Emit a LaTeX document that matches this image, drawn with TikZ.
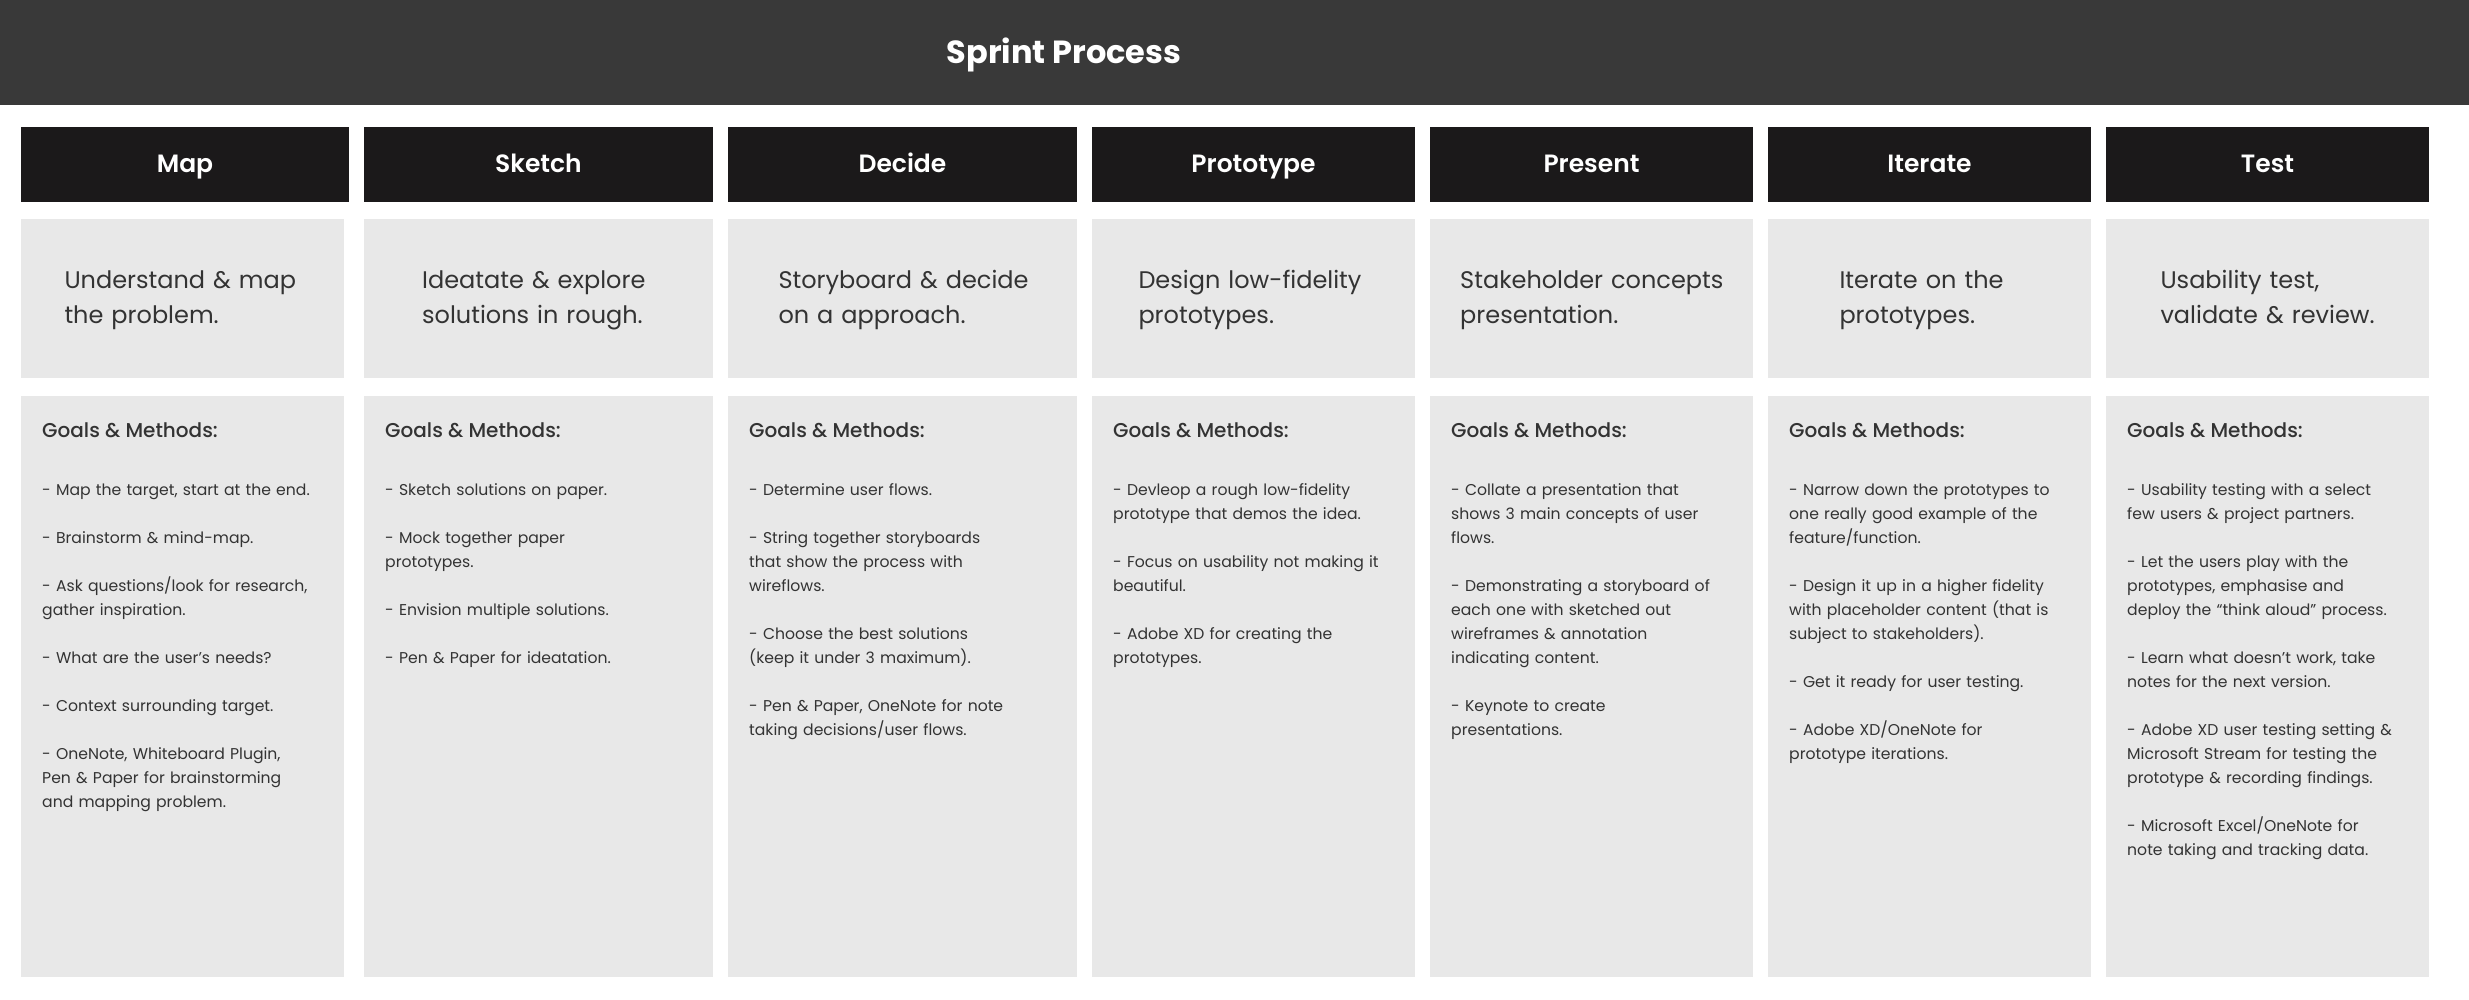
\documentclass[tikz,border=0pt]{standalone}
\usepackage{fontspec}
\setmainfont{Poppins}
\newfontfamily\psemi{Poppins SemiBold}
\newfontfamily\pmed{Poppins Medium}
\definecolor{band}{HTML}{393939}
\definecolor{hdr}{HTML}{1B191A}
\definecolor{card}{HTML}{E8E8E8}
\definecolor{ink}{HTML}{333333}
\tikzset{
  box/.style={anchor=north west, inner sep=0pt, outer sep=0pt, draw=none},
  hdrbox/.style={box, fill=hdr, minimum height=75pt},
  cardbox/.style={box, fill=card},
  titletext/.style={anchor=base, text=white, inner sep=0pt, font=\bfseries\fontsize{32}{40}\selectfont},
  hdrtext/.style={anchor=base, text=white, inner sep=0pt, font=\psemi\fontsize{25}{30}\selectfont},
  desctext/.style={anchor=base west, text=ink, inner sep=0pt, text width=400pt, align=left, font=\fontsize{24}{35}\selectfont},
  goalhead/.style={anchor=base west, text=ink, inner sep=0pt, font=\pmed\fontsize{20}{24}\selectfont},
  bodytext/.style={anchor=base west, text=ink, inner sep=0pt, text width=400pt, align=left, font=\fontsize{15.65}{24}\selectfont},
}
\begin{document}
\begin{tikzpicture}[x=1pt,y=-1pt]
\useasboundingbox[fill=white] (0,0) rectangle (2469,1000);
% top band
\node[box, fill=band, minimum width=2469pt, minimum height=105pt] (band) at (0,0) {};
\node[titletext] (title) at (1064,63.3) {Sprint Process};

% column headers
\node[hdrbox, minimum width=328pt] (h1) at (21,127) {};
\node[hdrbox, minimum width=349pt] (h2) at (364,127) {};
\node[hdrbox, minimum width=349pt] (h3) at (728,127) {};
\node[hdrbox, minimum width=323pt] (h4) at (1092,127) {};
\node[hdrbox, minimum width=323pt] (h5) at (1430,127) {};
\node[hdrbox, minimum width=323pt] (h6) at (1768,127) {};
\node[hdrbox, minimum width=323pt] (h7) at (2106,127) {};
\node[hdrtext] (h1t) at (185,173) {Map};
\node[hdrtext] (h2t) at (538.5,173) {Sketch};
\node[hdrtext] (h3t) at (902.5,173) {Decide};
\node[hdrtext] (h4t) at (1253.5,173) {Prototype};
\node[hdrtext] (h5t) at (1591.5,173) {Present};
\node[hdrtext] (h6t) at (1929.5,173) {Iterate};
\node[hdrtext] (h7t) at (2267.5,173) {Test};

% description cards
\node[cardbox, minimum width=323pt, minimum height=159pt] (d1) at (21,219) {};
\node[cardbox, minimum width=349pt, minimum height=159pt] (d2) at (364,219) {};
\node[cardbox, minimum width=349pt, minimum height=159pt] (d3) at (728,219) {};
\node[cardbox, minimum width=323pt, minimum height=159pt] (d4) at (1092,219) {};
\node[cardbox, minimum width=323pt, minimum height=159pt] (d5) at (1430,219) {};
\node[cardbox, minimum width=323pt, minimum height=159pt] (d6) at (1768,219) {};
\node[cardbox, minimum width=323pt, minimum height=159pt] (d7) at (2106,219) {};
\node[desctext] (d1t) at (64.3,288.3) {Understand \& map\\the problem.};
\node[desctext] (d2t) at (422,288.3) {Ideatate \& explore\\solutions in rough.};
\node[desctext] (d3t) at (778.3,288.3) {Storyboard \& decide\\on a approach.};
\node[desctext] (d4t) at (1138.3,288.3) {Design low-fidelity\\prototypes.};
\node[desctext] (d5t) at (1460,288.3) {Stakeholder concepts\\presentation.};
\node[desctext] (d6t) at (1839.3,288.3) {Iterate on the\\prototypes.};
\node[desctext] (d7t) at (2160.3,288.3) {Usability test,\\validate \& review.};

% goals cards
\node[cardbox, minimum width=323pt, minimum height=581pt] (g1) at (21,396) {};
\node[cardbox, minimum width=349pt, minimum height=581pt] (g2) at (364,396) {};
\node[cardbox, minimum width=349pt, minimum height=581pt] (g3) at (728,396) {};
\node[cardbox, minimum width=323pt, minimum height=581pt] (g4) at (1092,396) {};
\node[cardbox, minimum width=323pt, minimum height=581pt] (g5) at (1430,396) {};
\node[cardbox, minimum width=323pt, minimum height=581pt] (g6) at (1768,396) {};
\node[cardbox, minimum width=323pt, minimum height=581pt] (g7) at (2106,396) {};

\node[goalhead] (gh1) at (42,437.3) {Goals \& Methods:};
\node[goalhead] (gh2) at (385,437.3) {Goals \& Methods:};
\node[goalhead] (gh3) at (749,437.3) {Goals \& Methods:};
\node[goalhead] (gh4) at (1113,437.3) {Goals \& Methods:};
\node[goalhead] (gh5) at (1451,437.3) {Goals \& Methods:};
\node[goalhead] (gh6) at (1789,437.3) {Goals \& Methods:};
\node[goalhead] (gh7) at (2127,437.3) {Goals \& Methods:};

\node[bodytext] (b1) at (42,495.7) {- Map the target, start at the end.\\[24pt]
- Brainstorm \& mind-map.\\[24pt]
- Ask questions/look for research,\\gather inspiration.\\[24pt]
- What are the user’s needs?\\[24pt]
- Context surrounding target.\\[24pt]
- OneNote, Whiteboard Plugin,\\Pen \& Paper for brainstorming\\and mapping problem.};

\node[bodytext] (b2) at (385,495.7) {- Sketch solutions on paper.\\[24pt]
- Mock together paper\\prototypes.\\[24pt]
- Envision multiple solutions.\\[24pt]
- Pen \& Paper for ideatation.};

\node[bodytext] (b3) at (749,495.7) {- Determine user flows.\\[24pt]
- String together storyboards\\that show the process with\\wireflows.\\[24pt]
- Choose the best solutions\\(keep it under 3 maximum).\\[24pt]
- Pen \& Paper, OneNote for note\\taking decisions/user flows.};

\node[bodytext] (b4) at (1113,495.7) {- Devleop a rough low-fidelity\\prototype that demos the idea.\\[24pt]
- Focus on usability not making it\\beautiful.\\[24pt]
- Adobe XD for creating the\\prototypes.};

\node[bodytext] (b5) at (1451,495.7) {- Collate a presentation that\\shows 3 main concepts of user\\flows.\\[24pt]
- Demonstrating a storyboard of\\each one with sketched out\\wireframes \& annotation\\indicating content.\\[24pt]
- Keynote to create\\presentations.};

\node[bodytext] (b6) at (1789,495.7) {- Narrow down the prototypes to\\one really good example of the\\feature/function.\\[24pt]
- Design it up in a higher fidelity\\with placeholder content (that is\\subject to stakeholders).\\[24pt]
- Get it ready for user testing.\\[24pt]
- Adobe XD/OneNote for\\prototype iterations.};

\node[bodytext] (b7) at (2127,495.7) {- Usability testing with a select\\few users \& project partners.\\[24pt]
- Let the users play with the\\prototypes, emphasise and\\deploy the “think aloud” process.\\[24pt]
- Learn what doesn’t work, take\\notes for the next version.\\[24pt]
- Adobe XD user testing setting \&\\Microsoft Stream for testing the\\prototype \& recording findings.\\[24pt]
- Microsoft Excel/OneNote for\\note taking and tracking data.};
\end{tikzpicture}
\end{document}
